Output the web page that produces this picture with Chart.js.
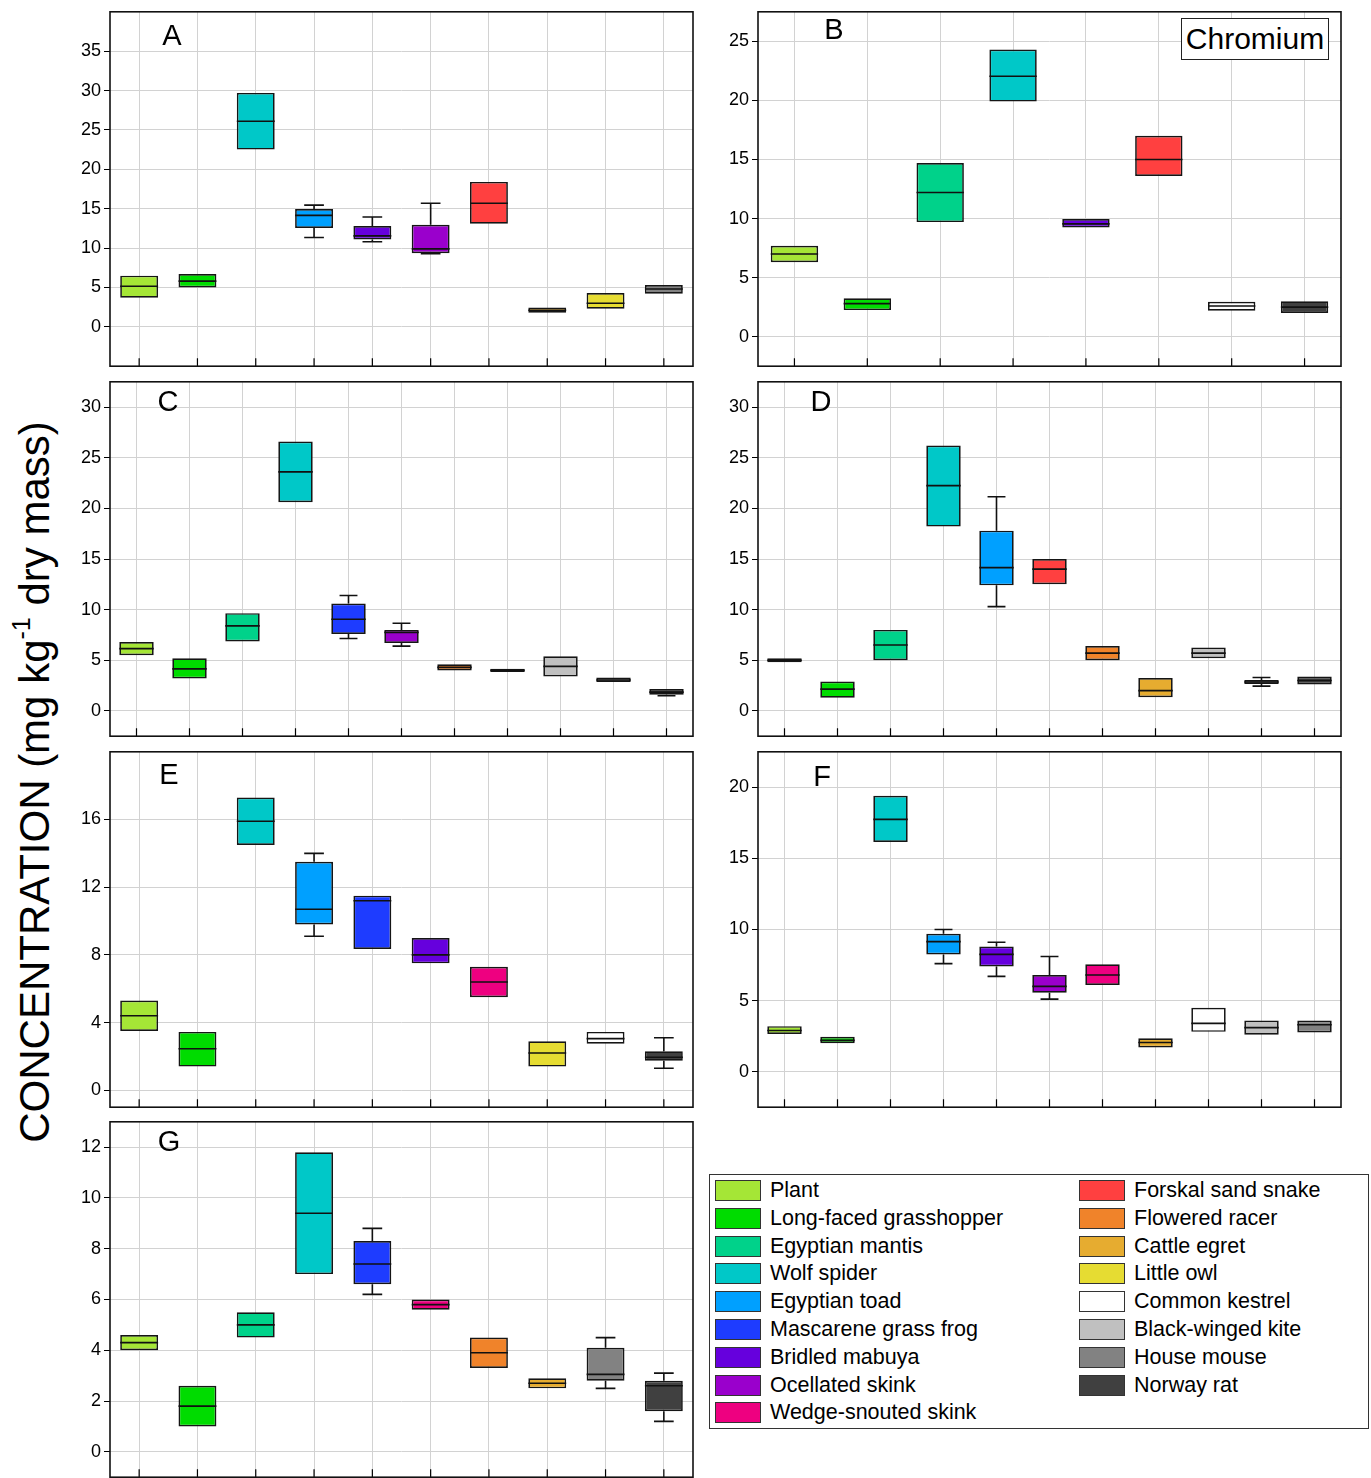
<!DOCTYPE html>
<html>
<head>
<meta charset="utf-8">
<title>Chromium concentration</title>
<script src="https://cdn.jsdelivr.net/npm/chart.js@4.4.1/dist/chart.umd.min.js"></script>
<style>
  body { margin: 0; background: #fff; font-family: 'Liberation Sans', Arial, sans-serif; }
  #page { position: relative; width: 1371px; height: 1478px; overflow: hidden; }
  #page canvas { position: absolute; }
  .ylabel {
    position: absolute; left: 35px; top: 782px; white-space: nowrap;
    transform: translate(-50%, -50%) rotate(-90deg);
    font-size: 42px; color: #000;
  }
  .ylabel sup { font-size: 25px; position: relative; top: -4px; vertical-align: top; }
  .metal {
    position: absolute; left: 1181px; top: 18px; width: 146px; height: 40px;
    border: 1px solid #222; background: #fff; font-size: 30px; line-height: 40px; text-align: center;
  }
  .legend {
    position: absolute; left: 709px; top: 1174px; width: 658px; height: 253px;
    border: 1px solid #333; background: #fff;
  }
  .legend .item { position: absolute; height: 21px; font-size: 21.5px; line-height: 21px; white-space: nowrap; }
  .legend .sw { position: absolute; left: 0; top: 0; width: 44px; height: 19px; border: 1px solid #333; }
  .legend .txt { position: absolute; left: 55px; top: 0; }
</style>
</head>
<body>
<div id="page">
  <div class="ylabel">CONCENTRATION (mg kg<sup>-1</sup> dry mass)</div>
  <div class="legend" id="legend"></div>
</div>
<script>
// ---- data ----
const speciesOrder = ['Plant', 'Long-faced grasshopper', 'Egyptian mantis', 'Wolf spider', 'Egyptian toad',
  'Mascarene grass frog', 'Bridled mabuya', 'Ocellated skink', 'Wedge-snouted skink', 'Forskal sand snake',
  'Flowered racer', 'Cattle egret', 'Little owl', 'Common kestrel', 'Black-winged kite', 'House mouse', 'Norway rat'];

// A
const speciesA = ['Plant', 'Long-faced grasshopper', 'Wolf spider', 'Egyptian toad', 'Bridled mabuya',
  'Ocellated skink', 'Forskal sand snake', 'Cattle egret', 'Little owl', 'House mouse'];
const q1A = [3.7, 5.0, 22.5, 12.55, 11.1, 9.35, 13.1, 1.8, 2.3, 4.2];
const medA = [5.15, 5.8, 26.1, 14.15, 11.55, 9.9, 15.7, 2.1, 3.0, 4.8];
const q3A = [6.5, 6.7, 29.7, 14.95, 12.8, 12.95, 18.4, 2.45, 4.3, 5.3];
const lowA = [3.7, 5.0, 22.5, 11.35, 10.8, 9.3, 13.1, 1.8, 2.3, 4.2];
const highA = [6.5, 6.7, 29.7, 15.45, 13.95, 15.7, 18.4, 2.45, 4.3, 5.3];
const ticksA = [0, 5, 10, 15, 20, 25, 30, 35];

// B
const speciesB = ['Plant', 'Long-faced grasshopper', 'Egyptian mantis', 'Wolf spider', 'Bridled mabuya',
  'Forskal sand snake', 'Common kestrel', 'Norway rat'];
const q1B = [6.3, 2.25, 9.7, 19.9, 9.25, 13.6, 2.2, 2.0];
const medB = [7.0, 2.8, 12.2, 22.05, 9.55, 15.0, 2.6, 2.5];
const q3B = [7.7, 3.25, 14.7, 24.3, 9.95, 17.0, 2.95, 3.0];
const lowB = [6.3, 2.25, 9.7, 19.9, 9.25, 13.6, 2.2, 2.0];
const highB = [7.7, 3.25, 14.7, 24.3, 9.95, 17.0, 2.95, 3.0];
const ticksB = [0, 5, 10, 15, 20, 25];

// C
const speciesC = ['Plant', 'Long-faced grasshopper', 'Egyptian mantis', 'Wolf spider', 'Mascarene grass frog',
  'Ocellated skink', 'Flowered racer', 'Common kestrel', 'Black-winged kite', 'House mouse', 'Norway rat'];
const q1C = [5.5, 3.2, 6.85, 20.6, 7.6, 6.7, 4.0, 3.85, 3.4, 2.85, 1.6];
const medC = [6.15, 4.15, 8.4, 23.6, 9.05, 7.75, 4.3, 4.0, 4.4, 3.05, 1.85];
const q3C = [6.8, 5.2, 9.65, 26.6, 10.6, 8.0, 4.6, 4.15, 5.4, 3.3, 2.15];
const lowC = [5.5, 3.2, 6.85, 20.6, 7.15, 6.4, 4.0, 3.85, 3.4, 2.85, 1.5];
const highC = [6.8, 5.2, 9.65, 26.6, 11.4, 8.65, 4.6, 4.15, 5.4, 3.3, 2.15];
const ticksC = [0, 5, 10, 15, 20, 25, 30];

// D
const speciesD = ['Plant', 'Long-faced grasshopper', 'Egyptian mantis', 'Wolf spider', 'Egyptian toad',
  'Forskal sand snake', 'Flowered racer', 'Cattle egret', 'Black-winged kite', 'House mouse', 'Norway rat'];
const q1D = [4.8, 1.3, 5.0, 18.2, 12.4, 12.5, 5.0, 1.35, 5.2, 2.65, 2.6];
const medD = [5.0, 2.15, 6.5, 22.25, 14.15, 14.0, 5.7, 2.0, 5.7, 2.85, 3.0];
const q3D = [5.2, 2.9, 8.0, 26.2, 17.8, 15.0, 6.4, 3.25, 6.25, 3.05, 3.4];
const lowD = [4.8, 1.3, 5.0, 18.2, 10.3, 12.5, 5.0, 1.35, 5.2, 2.45, 2.6];
const highD = [5.2, 2.9, 8.0, 26.2, 21.15, 15.0, 6.4, 3.25, 6.25, 3.3, 3.4];
const ticksD = [0, 5, 10, 15, 20, 25, 30];

// E
const speciesE = ['Plant', 'Long-faced grasshopper', 'Wolf spider', 'Egyptian toad', 'Mascarene grass frog',
  'Bridled mabuya', 'Wedge-snouted skink', 'Little owl', 'Common kestrel', 'Norway rat'];
const q1E = [3.5, 1.4, 14.5, 9.8, 8.35, 7.5, 5.5, 1.4, 2.75, 1.75];
const medE = [4.4, 2.45, 15.9, 10.7, 11.2, 8.0, 6.4, 2.2, 3.05, 1.95];
const q3E = [5.3, 3.45, 17.3, 13.5, 11.5, 9.0, 7.3, 2.9, 3.45, 2.3];
const lowE = [3.5, 1.4, 14.5, 9.1, 8.35, 7.5, 5.5, 1.4, 2.75, 1.3];
const highE = [5.3, 3.45, 17.3, 14.0, 11.5, 9.0, 7.3, 2.9, 3.45, 3.1];
const ticksE = [0, 4, 8, 12, 16];

// F
const speciesF = ['Plant', 'Long-faced grasshopper', 'Wolf spider', 'Egyptian toad', 'Bridled mabuya',
  'Ocellated skink', 'Wedge-snouted skink', 'Cattle egret', 'Common kestrel', 'Black-winged kite', 'House mouse'];
const q1F = [2.65, 2.0, 16.15, 8.25, 7.4, 5.55, 6.1, 1.7, 2.8, 2.6, 2.75];
const medF = [2.9, 2.2, 17.75, 9.15, 8.25, 6.0, 6.8, 2.05, 3.4, 3.1, 3.3];
const q3F = [3.2, 2.45, 19.4, 9.7, 8.8, 6.8, 7.55, 2.35, 4.5, 3.6, 3.6];
const lowF = [2.65, 2.0, 16.15, 7.6, 6.7, 5.1, 6.1, 1.7, 2.8, 2.6, 2.75];
const highF = [3.2, 2.45, 19.4, 10.0, 9.1, 8.1, 7.55, 2.35, 4.5, 3.6, 3.6];
const ticksF = [0, 5, 10, 15, 20];

// G
const speciesG = ['Plant', 'Long-faced grasshopper', 'Egyptian mantis', 'Wolf spider', 'Mascarene grass frog',
  'Wedge-snouted skink', 'Flowered racer', 'Cattle egret', 'House mouse', 'Norway rat'];
const q1G = [4.0, 1.0, 4.5, 7.0, 6.6, 5.6, 3.3, 2.5, 2.8, 1.6];
const medG = [4.3, 1.8, 5.0, 9.4, 7.4, 5.8, 3.9, 2.7, 3.05, 2.6];
const q3G = [4.6, 2.6, 5.5, 11.8, 8.3, 6.0, 4.5, 2.9, 4.1, 2.8];
const lowG = [4.0, 1.0, 4.5, 7.0, 6.2, 5.6, 3.3, 2.5, 2.5, 1.2];
const highG = [4.6, 2.6, 5.5, 11.8, 8.8, 6.0, 4.5, 2.9, 4.5, 3.1];
const ticksG = [0, 2, 4, 6, 8, 10, 12];

// ---- styling ----
const speciesColors = {
  'Plant': '#A5E636', 'Long-faced grasshopper': '#00DC00', 'Egyptian mantis': '#00D28A',
  'Wolf spider': '#00C8C8', 'Egyptian toad': '#00A0FF', 'Mascarene grass frog': '#1E3CFF',
  'Bridled mabuya': '#6600DD', 'Ocellated skink': '#9A00CC', 'Wedge-snouted skink': '#EE0080',
  'Forskal sand snake': '#FF4040', 'Flowered racer': '#F0832A', 'Cattle egret': '#E6AC30',
  'Little owl': '#E6DC32', 'Common kestrel': '#FFFFFF', 'Black-winged kite': '#C0C0C0',
  'House mouse': '#828282', 'Norway rat': '#404040'
};

const panels = [
  { letter: 'A', species: speciesA, q1: q1A, med: medA, q3: q3A, low: lowA, high: highA, ticks: ticksA,
    min: -5, max: 40, rect: [110, 10, 693, 368], lx: 62, ly: 25 },
  { letter: 'B', species: speciesB, q1: q1B, med: medB, q3: q3B, low: lowB, high: highB, ticks: ticksB,
    min: -2.5, max: 27.5, rect: [758, 10, 1341, 368], lx: 76, ly: 19 },
  { letter: 'C', species: speciesC, q1: q1C, med: medC, q3: q3C, low: lowC, high: highC, ticks: ticksC,
    min: -2.5, max: 32.5, rect: [110, 380, 693, 738], lx: 58, ly: 21 },
  { letter: 'D', species: speciesD, q1: q1D, med: medD, q3: q3D, low: lowD, high: highD, ticks: ticksD,
    min: -2.5, max: 32.5, rect: [758, 380, 1341, 738], lx: 63, ly: 21 },
  { letter: 'E', species: speciesE, q1: q1E, med: medE, q3: q3E, low: lowE, high: highE, ticks: ticksE,
    min: -1, max: 20, rect: [110, 750, 693, 1109], lx: 59, ly: 24 },
  { letter: 'F', species: speciesF, q1: q1F, med: medF, q3: q3F, low: lowF, high: highF, ticks: ticksF,
    min: -2.5, max: 22.5, rect: [758, 750, 1341, 1109], lx: 64, ly: 26 },
  { letter: 'G', species: speciesG, q1: q1G, med: medG, q3: q3G, low: lowG, high: highG, ticks: ticksG,
    min: -1, max: 13, rect: [110, 1120, 693, 1479], lx: 59, ly: 21 }
];

const AXIS_W = 50;
const PAD = 12;
const PAD_R = 6;
const page = document.getElementById('page');

function boxPlugin(panel) {
  return {
    id: 'box' + panel.letter,
    afterDatasetsDraw(chart) {
      const { ctx, chartArea, scales: { x, y } } = chart;
      const meta = chart.getDatasetMeta(0);
      ctx.save();
      ctx.strokeStyle = '#111';
      ctx.lineWidth = 1.6;
      ctx.beginPath();
      panel.med.forEach((m, i) => {
        const bar = meta.data[i];
        const cx = bar.x;
        const half = bar.width / 2;
        const cap = half * 0.52;
        const ym = y.getPixelForValue(m);
        ctx.moveTo(cx - half, ym);
        ctx.lineTo(cx + half, ym);
        if (panel.high[i] > panel.q3[i]) {
          const yh = y.getPixelForValue(panel.high[i]);
          ctx.moveTo(cx, y.getPixelForValue(panel.q3[i]));
          ctx.lineTo(cx, yh);
          ctx.moveTo(cx - cap, yh);
          ctx.lineTo(cx + cap, yh);
        }
        if (panel.low[i] < panel.q1[i]) {
          const yl = y.getPixelForValue(panel.low[i]);
          ctx.moveTo(cx, y.getPixelForValue(panel.q1[i]));
          ctx.lineTo(cx, yl);
          ctx.moveTo(cx - cap, yl);
          ctx.lineTo(cx + cap, yl);
        }
      });
      ctx.stroke();

      // inner tick marks on the bottom axis
      ctx.strokeStyle = '#000';
      ctx.lineWidth = 1.2;
      ctx.beginPath();
      x.ticks.forEach((t, i) => {
        const px = x.getPixelForTick(i);
        ctx.moveTo(px, chartArea.bottom);
        ctx.lineTo(px, chartArea.bottom - 8);
      });
      ctx.stroke();

      // frame
      ctx.lineWidth = 1.6;
      ctx.strokeStyle = '#111';
      ctx.strokeRect(chartArea.left, chartArea.top, chartArea.right - chartArea.left, chartArea.bottom - chartArea.top);

      // panel letter
      ctx.fillStyle = '#000';
      ctx.font = '29px "Liberation Sans", Arial, sans-serif';
      ctx.textAlign = 'center';
      ctx.textBaseline = 'middle';
      ctx.fillText(panel.letter, chartArea.left + panel.lx, chartArea.top + panel.ly);
      ctx.restore();
    }
  };
}

panels.forEach((panel) => {
  const [l, t, r, b] = panel.rect;
  const w = (r - l) + AXIS_W + PAD_R;
  const h = (b - t) + PAD * 2;
  const canvas = document.createElement('canvas');
  canvas.width = w;
  canvas.height = h;
  canvas.style.left = (l - AXIS_W) + 'px';
  canvas.style.top = (t - PAD) + 'px';
  canvas.style.width = w + 'px';
  canvas.style.height = h + 'px';
  page.appendChild(canvas);

  new Chart(canvas, {
    type: 'bar',
    data: {
      labels: panel.species,
      datasets: [{
        data: panel.q1.map((v, i) => [v, panel.q3[i]]),
        backgroundColor: panel.species.map((s) => speciesColors[s]),
        borderColor: '#151515',
        borderWidth: 1.7,
        borderSkipped: false,
        barPercentage: 0.65,
        categoryPercentage: 1
      }]
    },
    options: {
      responsive: false,
      animation: false,
      devicePixelRatio: 1,
      layout: { padding: { top: PAD, bottom: PAD, left: 0, right: PAD_R } },
      plugins: { legend: { display: false }, tooltip: { enabled: false } },
      scales: {
        x: {
          type: 'category',
          offset: true,
          grid: { offset: false, color: '#d2d2d2', lineWidth: 1, drawTicks: false },
          border: { display: false },
          ticks: { display: false },
          afterFit: (s) => { s.height = 0; }
        },
        y: {
          min: panel.min,
          max: panel.max,
          afterBuildTicks: (s) => { s.ticks = panel.ticks.map((v) => ({ value: v })); },
          afterFit: (s) => { s.width = AXIS_W; },
          grid: { color: '#d2d2d2', lineWidth: 1, tickLength: 6, tickColor: '#000' },
          border: { display: false },
          ticks: {
            color: '#000',
            padding: 3,
            font: { family: '"Liberation Sans", Arial, sans-serif', size: 18 }
          }
        }
      }
    },
    plugins: [boxPlugin(panel)]
  });
});

// metal label inside panel B
const metal = document.createElement('div');
metal.className = 'metal';
metal.textContent = 'Chromium';
page.appendChild(metal);

// legend
const legend = document.getElementById('legend');
speciesOrder.forEach((name, i) => {
  const col = i < 9 ? 0 : 1;
  const row = i < 9 ? i : i - 9;
  const item = document.createElement('div');
  item.className = 'item';
  item.style.left = (col === 0 ? 5 : 369) + 'px';
  item.style.top = (5 + row * 27.8) + 'px';
  const sw = document.createElement('div');
  sw.className = 'sw';
  sw.style.background = speciesColors[name];
  const txt = document.createElement('div');
  txt.className = 'txt';
  txt.textContent = name;
  item.append(sw, txt);
  legend.appendChild(item);
});
</script>
</body>
</html>
